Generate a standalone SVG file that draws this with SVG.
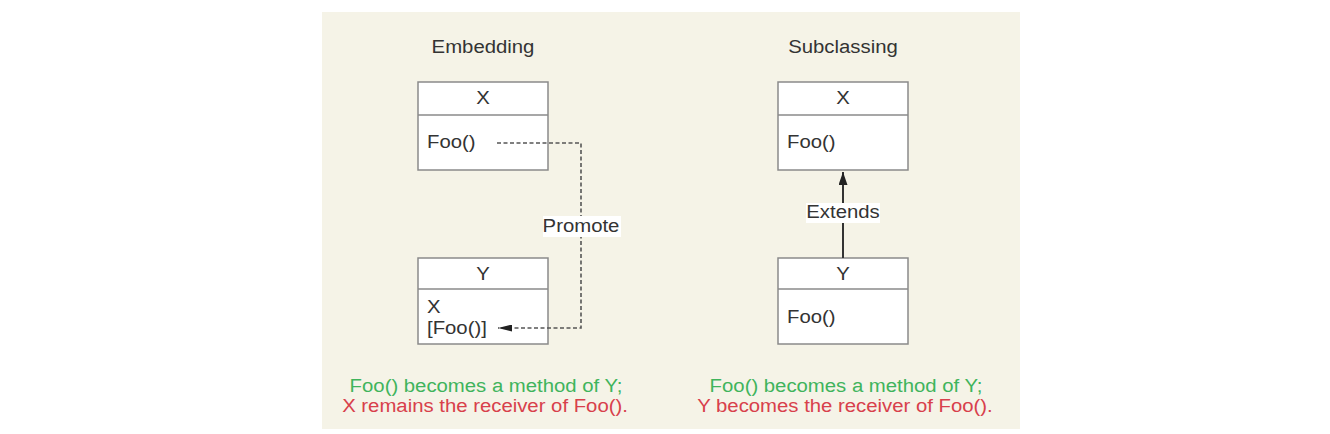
<svg xmlns="http://www.w3.org/2000/svg" width="1330" height="434" viewBox="0 0 1330 434">
<style>
  text { font-family: "Liberation Sans", Arial, sans-serif; font-size: 18px; fill: #333; }
  .mid { text-anchor: middle; }
  .green { fill: #3fb45c; }
  .red { fill: #d8404b; }
  .box { fill: #ffffff; stroke: #8a8a8a; stroke-width: 1.5; }
  .div { stroke: #8a8a8a; stroke-width: 1.5; }
  .dash { fill: none; stroke: #555; stroke-width: 1.6; stroke-dasharray: 4 2.5; }
  .solid { fill: none; stroke: #333; stroke-width: 2; }
  .lblbg { fill: #ffffff; }
</style>
<defs>
  <marker id="arrow" viewBox="0 0 13 9" refX="13" refY="4.5" markerWidth="13" markerHeight="9" markerUnits="userSpaceOnUse" orient="auto">
    <path d="M0,0 L13,4.5 L0,9 z" fill="#222"/>
  </marker>
  <marker id="arrow2" viewBox="0 0 14 7" refX="14" refY="3.5" markerWidth="14" markerHeight="7" markerUnits="userSpaceOnUse" orient="auto">
    <path d="M0,0 L14,3.5 L0,7 z" fill="#222"/>
  </marker>
</defs>
<rect x="322" y="12" width="698" height="417" fill="#f5f3e7"/>

<g id="title-embedding"><text class="mid" transform="translate(483 53) scale(1.13 1)">Embedding</text></g>
<g id="title-subclassing"><text class="mid" transform="translate(843 53) scale(1.13 1)">Subclassing</text></g>

<g id="embed-x">
  <rect class="box" x="418" y="82" width="130" height="88"/>
  <line class="div" x1="418" y1="115" x2="548" y2="115"/>
  <text class="mid" transform="translate(483 104) scale(1.13 1)">X</text>
  <text transform="translate(427 148) scale(1.13 1)">Foo()</text>
</g>

<g id="embed-y">
  <rect class="box" x="418" y="258" width="130" height="86"/>
  <line class="div" x1="418" y1="289" x2="548" y2="289"/>
  <text class="mid" transform="translate(483 280) scale(1.13 1)">Y</text>
  <text transform="translate(427 313) scale(1.13 1)">X</text>
  <text transform="translate(427 334) scale(1.13 1)">[Foo()]</text>
</g>

<g id="sub-x">
  <rect class="box" x="778" y="82" width="130" height="88"/>
  <line class="div" x1="778" y1="115" x2="908" y2="115"/>
  <text class="mid" transform="translate(843 104) scale(1.13 1)">X</text>
  <text transform="translate(787 148) scale(1.13 1)">Foo()</text>
</g>

<g id="sub-y">
  <rect class="box" x="778" y="258" width="130" height="86"/>
  <line class="div" x1="778" y1="289" x2="908" y2="289"/>
  <text class="mid" transform="translate(843 280) scale(1.13 1)">Y</text>
  <text transform="translate(787 323) scale(1.13 1)">Foo()</text>
</g>

<g id="connectors">
  <path class="dash" d="M497,143 H581 V328 H498" marker-end="url(#arrow2)"/>
  <rect class="lblbg" x="543" y="216" width="78" height="21"/>
  <text class="mid" transform="translate(581 232) scale(1.13 1)">Promote</text>
  <path class="solid" d="M843,258 V172" marker-end="url(#arrow)"/>
  <rect class="lblbg" x="806" y="203" width="74" height="20"/>
  <text class="mid" transform="translate(843 218) scale(1.13 1)">Extends</text>
</g>

<g id="caption-embedding">
  <text class="mid green" transform="translate(486 392) scale(1.13 1)">Foo() becomes a method of Y;</text>
  <text class="mid red" transform="translate(485 412) scale(1.13 1)">X remains the receiver of Foo().</text>
</g>
<g id="caption-subclassing">
  <text class="mid green" transform="translate(846 392) scale(1.13 1)">Foo() becomes a method of Y;</text>
  <text class="mid red" transform="translate(845 412) scale(1.13 1)">Y becomes the receiver of Foo().</text>
</g>
</svg>
